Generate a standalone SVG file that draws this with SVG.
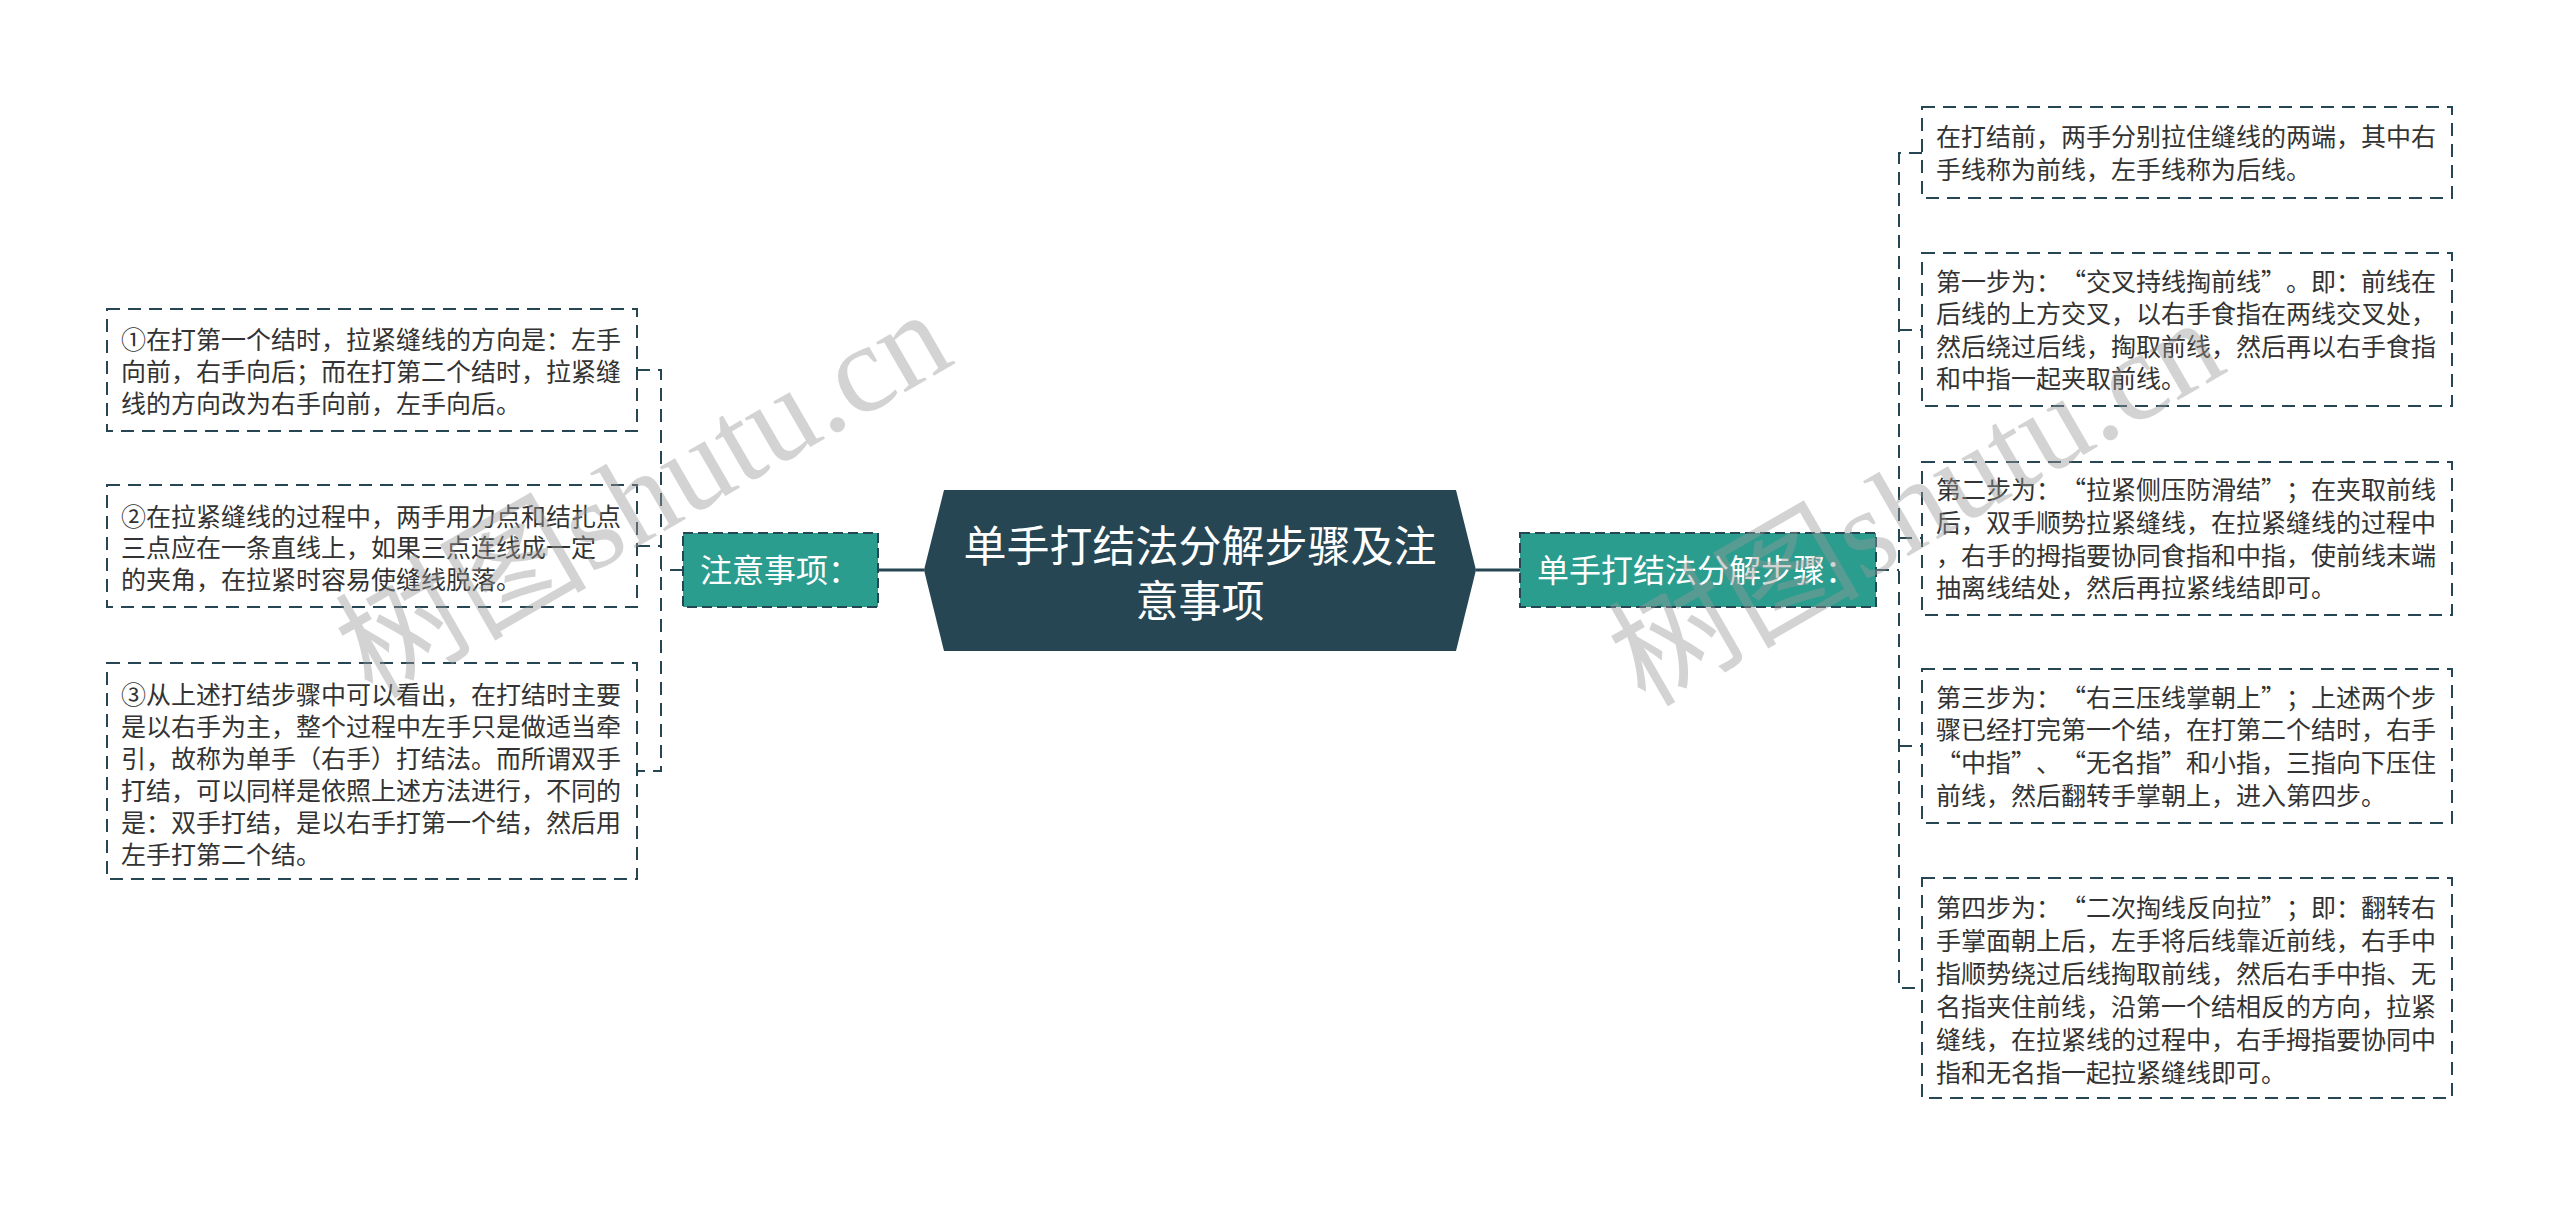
<svg xmlns="http://www.w3.org/2000/svg" width="2560" height="1206" viewBox="0 0 2560 1206">
<style>
.bg{fill:#ffffff}
.box{fill:#ffffff;stroke:#264653;stroke-width:2;stroke-dasharray:13 8}
.tx{font-family:"Noto Sans CJK SC","Liberation Sans",sans-serif;font-size:25px;fill:#333333}
.sub{fill:#2a9d8f;stroke:#264653;stroke-width:2;stroke-dasharray:10 5}
.subtx{font-family:"Noto Sans CJK SC","Liberation Sans",sans-serif;font-size:32px;fill:#ffffff}
.root{fill:#264653}
.roottx{font-family:"Noto Sans CJK SC","Liberation Sans",sans-serif;font-size:43px;fill:#ffffff;text-anchor:middle}
.dash{fill:none;stroke:#264653;stroke-width:2;stroke-dasharray:13 8}
.solid{fill:none;stroke:#264653;stroke-width:3}
.wm{font-family:"Liberation Serif","Noto Sans CJK SC",serif;font-size:126px;fill:#999999;opacity:0.42}
</style>
<rect class="bg" x="0" y="0" width="2560" height="1206"/>

<g id="connectors">
  <line class="solid" x1="878" y1="570" x2="924" y2="570"/>
  <line class="solid" x1="1476" y1="570" x2="1520" y2="570"/>
  <line class="dash" x1="683" y1="570" x2="661" y2="570"/>
  <path class="dash" d="M637 370 H661 V771 H637"/>
  <line class="dash" x1="637" y1="546" x2="661" y2="546"/>
  <line class="dash" x1="1876" y1="570" x2="1899" y2="570"/>
  <path class="dash" d="M1922 153 H1899 V988 H1922"/>
  <line class="dash" x1="1899" y1="330" x2="1922" y2="330"/>
  <line class="dash" x1="1899" y1="538" x2="1922" y2="538"/>
  <line class="dash" x1="1899" y1="746" x2="1922" y2="746"/>
</g>

<g id="root">
  <polygon class="root" points="944,490 1456,490 1476,570 1456,651 944,651 924,570"/>
  <text class="roottx" x="1200" y="562">单手打结法分解步骤及注</text>
  <text class="roottx" x="1200" y="617">意事项</text>
</g>

<g id="node-left">
  <rect class="sub" x="683" y="533" width="195" height="74"/>
  <text class="subtx" x="700" y="582">注意事项：</text>
</g>

<g id="node-right">
  <rect class="sub" x="1520" y="533" width="356" height="74"/>
  <text class="subtx" x="1537" y="582">单手打结法分解步骤：</text>
</g>

<g id="L1">
  <rect class="box" x="107" y="309" width="530" height="122"/>
  <text class="tx" x="121" y="349">①在打第一个结时，拉紧缝线的方向是：左手</text>
  <text class="tx" x="121" y="381">向前，右手向后；而在打第二个结时，拉紧缝</text>
  <text class="tx" x="121" y="413">线的方向改为右手向前，左手向后。</text>
</g>
<g id="L2">
  <rect class="box" x="107" y="485" width="530" height="122"/>
  <text class="tx" x="121" y="526">②在拉紧缝线的过程中，两手用力点和结扎点</text>
  <text class="tx" x="121" y="557">三点应在一条直线上，如果三点连线成一定</text>
  <text class="tx" x="121" y="589">的夹角，在拉紧时容易使缝线脱落。</text>
</g>
<g id="L3">
  <rect class="box" x="107" y="663" width="530" height="216"/>
  <text class="tx" x="121" y="704">③从上述打结步骤中可以看出，在打结时主要</text>
  <text class="tx" x="121" y="736">是以右手为主，整个过程中左手只是做适当牵</text>
  <text class="tx" x="121" y="768">引，故称为单手（右手）打结法。而所谓双手</text>
  <text class="tx" x="121" y="800">打结，可以同样是依照上述方法进行，不同的</text>
  <text class="tx" x="121" y="832">是：双手打结，是以右手打第一个结，然后用</text>
  <text class="tx" x="121" y="864">左手打第二个结。</text>
</g>

<g id="R1">
  <rect class="box" x="1922" y="107" width="530" height="91"/>
  <text class="tx" x="1936" y="146">在打结前，两手分别拉住缝线的两端，其中右</text>
  <text class="tx" x="1936" y="179">手线称为前线，左手线称为后线。</text>
</g>
<g id="R2">
  <rect class="box" x="1922" y="253" width="530" height="153"/>
  <text class="tx" y="291"><tspan x="1936">第一步为：</tspan><tspan x="2061">“</tspan><tspan x="2086">交叉持线掏前线</tspan><tspan x="2261">”</tspan><tspan x="2286">。即：前线在</tspan></text>
  <text class="tx" x="1936" y="323">后线的上方交叉，以右手食指在两线交叉处，</text>
  <text class="tx" x="1936" y="356">然后绕过后线，掏取前线，然后再以右手食指</text>
  <text class="tx" x="1936" y="388">和中指一起夹取前线。</text>
</g>
<g id="R3">
  <rect class="box" x="1922" y="462" width="530" height="153"/>
  <text class="tx" y="499"><tspan x="1936">第二步为：</tspan><tspan x="2061">“</tspan><tspan x="2086">拉紧侧压防滑结</tspan><tspan x="2261">”</tspan><tspan x="2286">；在夹取前线</tspan></text>
  <text class="tx" x="1936" y="532">后，双手顺势拉紧缝线，在拉紧缝线的过程中</text>
  <text class="tx" x="1936" y="565">，右手的拇指要协同食指和中指，使前线末端</text>
  <text class="tx" x="1936" y="597">抽离线结处，然后再拉紧线结即可。</text>
</g>
<g id="R4">
  <rect class="box" x="1922" y="669" width="530" height="154"/>
  <text class="tx" y="707"><tspan x="1936">第三步为：</tspan><tspan x="2061">“</tspan><tspan x="2086">右三压线掌朝上</tspan><tspan x="2261">”</tspan><tspan x="2286">；上述两个步</tspan></text>
  <text class="tx" x="1936" y="739">骤已经打完第一个结，在打第二个结时，右手</text>
  <text class="tx" y="772"><tspan x="1936">“</tspan><tspan x="1961">中指</tspan><tspan x="2011">”</tspan><tspan x="2036">、</tspan><tspan x="2061">“</tspan><tspan x="2086">无名指</tspan><tspan x="2161">”</tspan><tspan x="2186">和小指，三指向下压住</tspan></text>
  <text class="tx" x="1936" y="805">前线，然后翻转手掌朝上，进入第四步。</text>
</g>
<g id="R5">
  <rect class="box" x="1922" y="878" width="530" height="220"/>
  <text class="tx" y="917"><tspan x="1936">第四步为：</tspan><tspan x="2061">“</tspan><tspan x="2086">二次掏线反向拉</tspan><tspan x="2261">”</tspan><tspan x="2286">；即：翻转右</tspan></text>
  <text class="tx" x="1936" y="950">手掌面朝上后，左手将后线靠近前线，右手中</text>
  <text class="tx" x="1936" y="983">指顺势绕过后线掏取前线，然后右手中指、无</text>
  <text class="tx" x="1936" y="1016">名指夹住前线，沿第一个结相反的方向，拉紧</text>
  <text class="tx" x="1936" y="1049">缝线，在拉紧线的过程中，右手拇指要协同中</text>
  <text class="tx" x="1936" y="1082">指和无名指一起拉紧缝线即可。</text>
</g>

<g id="watermarks">
  <text class="wm" transform="translate(372,700) rotate(-30)">树图shutu.cn</text>
  <text class="wm" transform="translate(1645,708) rotate(-30)">树图shutu.cn</text>
</g>
</svg>
